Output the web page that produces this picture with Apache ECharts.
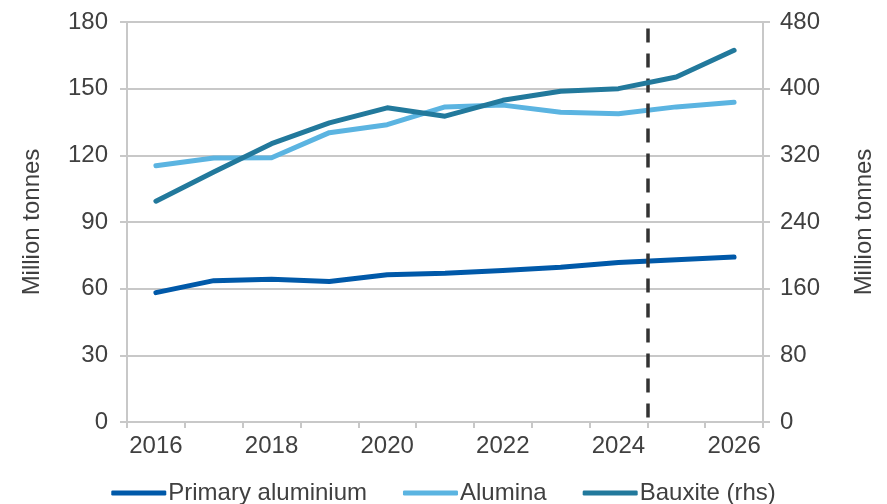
<!DOCTYPE html>
<html>
<head>
<meta charset="utf-8">
<script src="https://cdn.jsdelivr.net/npm/echarts@6/dist/echarts.min.js"></script>
<style>
  html, body { margin: 0; padding: 0; background: #fff; }
  #chart { width: 887px; height: 504px; }
</style>
</head>
<body>
<div id="chart"></div>
<script>
// Years on the category axis
const years = ['2016', '2017', '2018', '2019', '2020', '2021', '2022', '2023', '2024', '2025', '2026'];

// Output, million tonnes
const primaryAluminium = [58.2, 63.6, 64.2, 63.2, 66.3, 66.9, 68.2, 69.6, 71.8, 73.0, 74.2];
const alumina = [115.3, 118.8, 118.9, 130.2, 133.8, 141.8, 142.6, 139.4, 138.7, 141.8, 143.9];
const bauxite = [265, 300, 334, 359, 377, 367, 386, 397, 400, 414, 446];

// Left and right axis ranges
const leftAxis = { min: 0, max: 180, step: 30 };
const rightAxis = { min: 0, max: 480, step: 80 };

// Forecast divider sits on the boundary between 2024 and 2025
const dividerPosition = 9;

const textColor = '#404040';
const gridColor = '#c8c8c8';
const fontFamily = '"Liberation Sans", Arial, sans-serif';
const fontSize = 24;

const chart = echarts.init(document.getElementById('chart'), null, { renderer: 'canvas' });

chart.setOption({
  animation: false,
  backgroundColor: '#ffffff',
  textStyle: { fontFamily: fontFamily, color: textColor },
  grid: { left: 127, right: 124, top: 22, bottom: 82, containLabel: false },
  legend: {
    data: ['Primary aluminium', 'Alumina', 'Bauxite (rhs)'],
    top: 476,
    left: 'center',
    icon: 'roundRect',
    itemWidth: 55,
    itemHeight: 5,
    itemGap: 36,
    textStyle: { fontFamily: fontFamily, fontSize: fontSize, color: textColor, padding: [0, 0, 0, -3] }
  },
  xAxis: [
    {
      type: 'category',
      data: years,
      boundaryGap: true,
      axisLine: { show: true, lineStyle: { color: gridColor, width: 2 } },
      axisTick: { show: true, interval: 0, length: 6, lineStyle: { color: gridColor, width: 2 } },
      axisLabel: { interval: 1, margin: 12, fontSize: fontSize, color: textColor, fontFamily: fontFamily },
      splitLine: { show: false }
    },
    {
      // hidden linear axis used to place the forecast divider between categories
      type: 'value',
      min: 0,
      max: years.length,
      show: false
    }
  ],
  yAxis: [
    {
      type: 'value',
      min: leftAxis.min,
      max: leftAxis.max,
      interval: leftAxis.step,
      position: 'left',
      name: 'Million tonnes',
      nameLocation: 'middle',
      nameGap: 83,
      nameRotate: 90,
      nameTextStyle: { fontSize: fontSize, color: textColor, fontFamily: fontFamily },
      axisLine: { show: true, lineStyle: { color: gridColor, width: 2 } },
      axisTick: { show: true, length: 7, lineStyle: { color: gridColor, width: 2 } },
      axisLabel: { margin: 19, fontSize: fontSize, color: textColor, fontFamily: fontFamily },
      splitLine: { show: true, lineStyle: { color: gridColor, width: 2 } }
    },
    {
      type: 'value',
      min: rightAxis.min,
      max: rightAxis.max,
      interval: rightAxis.step,
      position: 'right',
      name: 'Million tonnes',
      nameLocation: 'middle',
      nameGap: 89,
      nameRotate: 90,
      nameTextStyle: { fontSize: fontSize, color: textColor, fontFamily: fontFamily },
      axisLine: { show: true, lineStyle: { color: gridColor, width: 2 } },
      axisTick: { show: true, length: 7, lineStyle: { color: gridColor, width: 2 } },
      axisLabel: { margin: 17, fontSize: fontSize, color: textColor, fontFamily: fontFamily },
      splitLine: { show: false }
    }
  ],
  series: [
    {
      name: 'Primary aluminium',
      type: 'line',
      data: primaryAluminium,
      yAxisIndex: 0,
      symbol: 'none',
      z: 4,
      lineStyle: { color: '#0059A9', width: 5, cap: 'round', join: 'round' },
      itemStyle: { color: '#0059A9' }
    },
    {
      name: 'Alumina',
      type: 'line',
      data: alumina,
      yAxisIndex: 0,
      symbol: 'none',
      z: 3,
      lineStyle: { color: '#5BB4E1', width: 5, cap: 'round', join: 'round' },
      itemStyle: { color: '#5BB4E1' }
    },
    {
      name: 'Bauxite (rhs)',
      type: 'line',
      data: bauxite,
      yAxisIndex: 1,
      symbol: 'none',
      z: 5,
      lineStyle: { color: '#22799C', width: 5, cap: 'round', join: 'round' },
      itemStyle: { color: '#22799C' }
    },
    {
      name: 'divider',
      type: 'line',
      xAxisIndex: 1,
      yAxisIndex: 0,
      data: [],
      symbol: 'none',
      z: 6,
      markLine: {
        silent: true,
        symbol: ['none', 'none'],
        label: { show: false },
        lineStyle: { color: '#333333', width: 3.5, type: [14, 11] },
        data: [[
          { coord: [dividerPosition, 2] },
          { coord: [dividerPosition, 178] }
        ]]
      }
    }
  ]
});
</script>
</body>
</html>
